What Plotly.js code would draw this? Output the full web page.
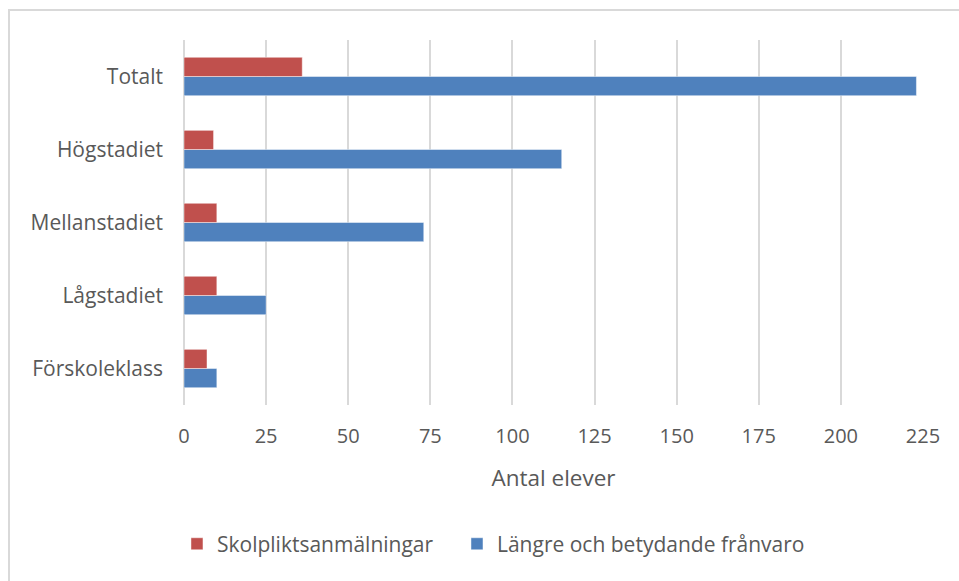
<!DOCTYPE html>
<html>
<head>
<meta charset="utf-8">
<script src="https://cdn.plot.ly/plotly-3.0.1.min.js"></script>
<style>
  html, body { margin: 0; padding: 0; background: #fff; overflow: hidden; }
  #chart { width: 959px; height: 581px; position: absolute; left: 0; top: 0; }
  #frame { position: absolute; left: 8px; top: 9px; width: 1000px; height: 700px;
           border-left: 2px solid #d9d9d9; border-top: 2px solid #d9d9d9; pointer-events: none; }
</style>
</head>
<body>
<div id="chart"></div>
<div id="frame"></div>
<script>
const categories = ["Förskoleklass", "Lågstadiet", "Mellanstadiet", "Högstadiet", "Totalt"];
const skolplikt = [7, 10, 10, 9, 36];
const franvaro = [10, 25, 73, 115, 223];
const seriesNames = ["Skolpliktsanmälningar", "Längre och betydande frånvaro"];
const xTicks = [0, 25, 50, 75, 100, 125, 150, 175, 200, 225];

const font = "Open Sans, Noto Sans, Liberation Sans, sans-serif";
const edge = { color: "rgba(255,255,255,0.45)", width: 1 };
const legFont = { family: font, size: 21, color: "#595959" };

const traces = [
  { type: "bar", orientation: "h", name: seriesNames[1], y: categories, x: franvaro,
    legend: "legend2",
    marker: { color: "#4f81bd", line: edge }, hoverinfo: "x+y" },
  { type: "bar", orientation: "h", name: seriesNames[0], y: categories, x: skolplikt,
    legend: "legend",
    marker: { color: "#c0504d", line: edge }, hoverinfo: "x+y" }
];

const layout = {
  width: 959, height: 581,
  margin: { l: 184, r: 36, t: 40, b: 176 },
  paper_bgcolor: "#ffffff", plot_bgcolor: "#ffffff",
  font: { family: font, size: 20, color: "#595959" },
  barmode: "group", bargap: 0.475, bargroupgap: 0,
  showlegend: true,
  legend: { orientation: "h", x: -0.0095, xanchor: "left",
            y: -0.325, yanchor: "top", font: legFont },
  legend2: { orientation: "h", x: 0.3694, xanchor: "left",
            y: -0.325, yanchor: "top", font: legFont },
  xaxis: {
    range: [0, 225], tickvals: xTicks, ticktext: xTicks.map(String),
    showgrid: true, gridcolor: "#d9d9d9", gridwidth: 2,
    zeroline: true, zerolinecolor: "#d9d9d9", zerolinewidth: 2,
    showline: false, ticks: "", ticklabelstandoff: 17,
    tickfont: { family: font, size: 20, color: "#595959" },
    title: { text: "Antal elever", standoff: 22, font: { family: font, size: 22.5, color: "#595959" } },
    fixedrange: true
  },
  yaxis: {
    type: "category", categoryorder: "array", categoryarray: categories,
    showgrid: false, zeroline: false, showline: false, ticks: "",
    ticklabelstandoff: 20,
    tickfont: { family: font, size: 21, color: "#595959" },
    fixedrange: true
  }
};

Plotly.newPlot("chart", traces, layout, { displayModeBar: false, staticPlot: true });
</script>
</body>
</html>
